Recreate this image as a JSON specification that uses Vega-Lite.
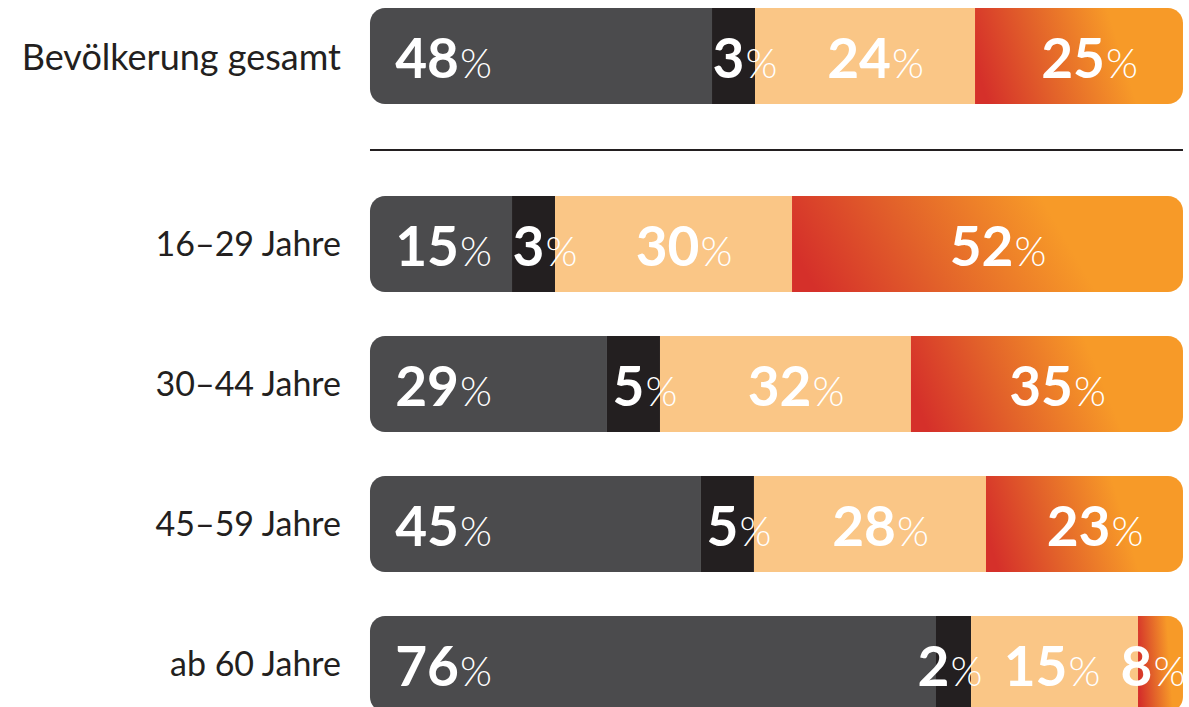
{
  "$schema": "https://vega.github.io/schema/vega-lite/v6.json",
  "width": 1189,
  "height": 707,
  "autosize": {"type": "fit", "contains": "padding"},
  "padding": 0,
  "background": "white",
  "config": {"view": {"stroke": null}, "font": "Lato"},
  "data": {
    "values": [
      {"gruppe": "Bevölkerung gesamt", "ebene": "gesamt", "kat": 1, "anteil": 42.07, "wert": 48},
      {"gruppe": "Bevölkerung gesamt", "ebene": "gesamt", "kat": 2, "anteil": 5.29, "wert": 3},
      {"gruppe": "Bevölkerung gesamt", "ebene": "gesamt", "kat": 3, "anteil": 27.06, "wert": 24},
      {"gruppe": "Bevölkerung gesamt", "ebene": "gesamt", "kat": 4, "anteil": 25.58, "wert": 25},
      {"gruppe": "16–29 Jahre", "ebene": "alter", "kat": 1, "anteil": 17.47, "wert": 15},
      {"gruppe": "16–29 Jahre", "ebene": "alter", "kat": 2, "anteil": 5.29, "wert": 3},
      {"gruppe": "16–29 Jahre", "ebene": "alter", "kat": 3, "anteil": 29.15, "wert": 30},
      {"gruppe": "16–29 Jahre", "ebene": "alter", "kat": 4, "anteil": 48.09, "wert": 52},
      {"gruppe": "30–44 Jahre", "ebene": "alter", "kat": 1, "anteil": 29.15, "wert": 29},
      {"gruppe": "30–44 Jahre", "ebene": "alter", "kat": 2, "anteil": 6.52, "wert": 5},
      {"gruppe": "30–44 Jahre", "ebene": "alter", "kat": 3, "anteil": 30.87, "wert": 32},
      {"gruppe": "30–44 Jahre", "ebene": "alter", "kat": 4, "anteil": 33.46, "wert": 35},
      {"gruppe": "45–59 Jahre", "ebene": "alter", "kat": 1, "anteil": 40.71, "wert": 45},
      {"gruppe": "45–59 Jahre", "ebene": "alter", "kat": 2, "anteil": 6.52, "wert": 5},
      {"gruppe": "45–59 Jahre", "ebene": "alter", "kat": 3, "anteil": 28.54, "wert": 28},
      {"gruppe": "45–59 Jahre", "ebene": "alter", "kat": 4, "anteil": 24.23, "wert": 23},
      {"gruppe": "ab 60 Jahre", "ebene": "alter", "kat": 1, "anteil": 69.62, "wert": 76},
      {"gruppe": "ab 60 Jahre", "ebene": "alter", "kat": 2, "anteil": 4.31, "wert": 2},
      {"gruppe": "ab 60 Jahre", "ebene": "alter", "kat": 3, "anteil": 20.54, "wert": 15},
      {"gruppe": "ab 60 Jahre", "ebene": "alter", "kat": 4, "anteil": 5.53, "wert": 8}
    ]
  },
  "transform": [
    {"stack": "anteil", "groupby": ["gruppe"], "sort": [{"field": "kat", "order": "ascending"}], "as": ["x0", "x1"]},
    {"calculate": "(datum.x0 + datum.x1) / 2", "as": "xm"}
  ],
  "encoding": {
    "x": {"field": "x0", "type": "quantitative", "scale": {"domain": [-45.51, 100.74], "nice": false, "zero": false}, "axis": null}
  },
  "layer": [
    {
      "transform": [{"filter": "datum.ebene == 'gesamt'"}],
      "encoding": {
        "y": {"field": "gruppe", "type": "nominal", "axis": null,
              "scale": {"domain": ["Bevölkerung gesamt", "Trennlinie"], "range": [9, 197], "paddingInner": 0, "paddingOuter": 0}}
      },
      "layer": [
        {"transform": [{"filter": "datum.kat == 1"}], "mark": {"type": "rule", "color": "#231f20", "strokeWidth": 2}, "encoding": {"x": {"datum": 0}, "x2": {"datum": 100}, "y": {"datum": "Trennlinie"}}},
        {"transform": [{"filter": "datum.kat == 1"}], "mark": {"type": "bar", "height": 96, "color": "#4b4b4d", "cornerRadiusTopLeft": 15, "cornerRadiusBottomLeft": 15}, "encoding": {"x2": {"field": "x1"}}},
        {"transform": [{"filter": "datum.kat == 2"}], "mark": {"type": "bar", "height": 96, "color": "#231f20"}, "encoding": {"x2": {"field": "x1"}}},
        {"transform": [{"filter": "datum.kat == 3"}], "mark": {"type": "bar", "height": 96, "color": "#fac686"}, "encoding": {"x2": {"field": "x1"}}},
        {"transform": [{"filter": "datum.kat == 4"}], "mark": {"type": "bar", "height": 96, "cornerRadiusTopRight": 15, "cornerRadiusBottomRight": 15,
          "color": {"gradient": "linear", "x1": 0, "y1": 0.55, "x2": 0.7, "y2": 0.45, "stops": [{"offset": 0, "color": "#d5302a"}, {"offset": 0.45, "color": "#e2612a"}, {"offset": 1, "color": "#f79a28"}]}}, "encoding": {"x2": {"field": "x1"}}},
        {"transform": [{"filter": "datum.kat == 1"}], "mark": {"type": "text", "align": "right", "baseline": "alphabetic", "dx": -29, "dy": 14, "fontSize": 36, "color": "#231f20"}, "encoding": {"x": {"datum": 0}, "text": {"field": "gruppe"}}},
        {"transform": [{"filter": "datum.kat == 1"}], "mark": {"type": "text", "align": "right", "baseline": "alphabetic", "dx": 89, "dy": 22, "fontSize": 55, "fontWeight": "bold", "color": "white"}, "encoding": {"text": {"field": "wert"}}},
        {"transform": [{"filter": "datum.kat == 1"}], "mark": {"type": "text", "align": "left", "baseline": "alphabetic", "dx": 90, "dy": 22, "fontSize": 41, "fontWeight": 300, "color": "white"}, "encoding": {"text": {"value": "%"}}},
        {"transform": [{"filter": "datum.kat == 2"}], "mark": {"type": "text", "align": "right", "baseline": "alphabetic", "dx": {"expr": "datum.anteil < 5 ? -4 : 11"}, "dy": 22, "fontSize": 55, "fontWeight": "bold", "color": "white"}, "encoding": {"x": {"field": "xm", "type": "quantitative"}, "text": {"field": "wert"}}},
        {"transform": [{"filter": "datum.kat == 2"}], "mark": {"type": "text", "align": "left", "baseline": "alphabetic", "dx": {"expr": "datum.anteil < 5 ? -3 : 12"}, "dy": 22, "fontSize": 41, "fontWeight": 300, "color": "white"}, "encoding": {"x": {"field": "xm", "type": "quantitative"}, "text": {"value": "%"}}},
        {"transform": [{"filter": "datum.kat >= 3"}], "mark": {"type": "text", "align": "right", "baseline": "alphabetic", "dx": {"expr": "datum.wert < 10 ? -8 : datum.anteil < 22 ? 13 : 26"}, "dy": 22, "fontSize": 55, "fontWeight": "bold", "color": "white"}, "encoding": {"x": {"field": "xm", "type": "quantitative"}, "text": {"field": "wert"}}},
        {"transform": [{"filter": "datum.kat >= 3"}], "mark": {"type": "text", "align": "left", "baseline": "alphabetic", "dx": {"expr": "datum.wert < 10 ? -7 : datum.anteil < 22 ? 14 : 27"}, "dy": 22, "fontSize": 41, "fontWeight": 300, "color": "white"}, "encoding": {"x": {"field": "xm", "type": "quantitative"}, "text": {"value": "%"}}}
      ]
    },
    {
      "transform": [{"filter": "datum.ebene == 'alter'"}],
      "encoding": {
        "y": {"field": "gruppe", "type": "nominal", "axis": null,
              "scale": {"domain": ["16–29 Jahre", "30–44 Jahre", "45–59 Jahre", "ab 60 Jahre"], "range": [174, 734], "paddingInner": 0, "paddingOuter": 0}}
      },
      "layer": [
        {"transform": [{"filter": "datum.kat == 1"}], "mark": {"type": "bar", "height": 96, "clip": true, "color": "#4b4b4d", "cornerRadiusTopLeft": 15, "cornerRadiusBottomLeft": 15}, "encoding": {"x2": {"field": "x1"}}},
        {"transform": [{"filter": "datum.kat == 2"}], "mark": {"type": "bar", "height": 96, "clip": true, "color": "#231f20"}, "encoding": {"x2": {"field": "x1"}}},
        {"transform": [{"filter": "datum.kat == 3"}], "mark": {"type": "bar", "height": 96, "clip": true, "color": "#fac686"}, "encoding": {"x2": {"field": "x1"}}},
        {"transform": [{"filter": "datum.kat == 4"}], "mark": {"type": "bar", "height": 96, "clip": true, "cornerRadiusTopRight": 15, "cornerRadiusBottomRight": 15,
          "color": {"gradient": "linear", "x1": 0, "y1": 0.55, "x2": 0.7, "y2": 0.45, "stops": [{"offset": 0, "color": "#d5302a"}, {"offset": 0.45, "color": "#e2612a"}, {"offset": 1, "color": "#f79a28"}]}}, "encoding": {"x2": {"field": "x1"}}},
        {"transform": [{"filter": "datum.kat == 1"}], "mark": {"type": "text", "align": "right", "baseline": "alphabetic", "dx": -29, "dy": 12, "fontSize": 34, "color": "#231f20"}, "encoding": {"x": {"datum": 0}, "text": {"field": "gruppe"}}},
        {"transform": [{"filter": "datum.kat == 1"}], "mark": {"type": "text", "align": "right", "baseline": "alphabetic", "dx": 89, "dy": 22, "fontSize": 55, "fontWeight": "bold", "color": "white"}, "encoding": {"text": {"field": "wert"}}},
        {"transform": [{"filter": "datum.kat == 1"}], "mark": {"type": "text", "align": "left", "baseline": "alphabetic", "dx": 90, "dy": 22, "fontSize": 41, "fontWeight": 300, "color": "white"}, "encoding": {"text": {"value": "%"}}},
        {"transform": [{"filter": "datum.kat == 2"}], "mark": {"type": "text", "align": "right", "baseline": "alphabetic", "dx": {"expr": "datum.anteil < 5 ? -4 : 11"}, "dy": 22, "fontSize": 55, "fontWeight": "bold", "color": "white"}, "encoding": {"x": {"field": "xm", "type": "quantitative"}, "text": {"field": "wert"}}},
        {"transform": [{"filter": "datum.kat == 2"}], "mark": {"type": "text", "align": "left", "baseline": "alphabetic", "dx": {"expr": "datum.anteil < 5 ? -3 : 12"}, "dy": 22, "fontSize": 41, "fontWeight": 300, "color": "white"}, "encoding": {"x": {"field": "xm", "type": "quantitative"}, "text": {"value": "%"}}},
        {"transform": [{"filter": "datum.kat >= 3"}], "mark": {"type": "text", "align": "right", "baseline": "alphabetic", "dx": {"expr": "datum.wert < 10 ? -8 : datum.anteil < 22 ? 13 : 26"}, "dy": 22, "fontSize": 55, "fontWeight": "bold", "color": "white"}, "encoding": {"x": {"field": "xm", "type": "quantitative"}, "text": {"field": "wert"}}},
        {"transform": [{"filter": "datum.kat >= 3"}], "mark": {"type": "text", "align": "left", "baseline": "alphabetic", "dx": {"expr": "datum.wert < 10 ? -7 : datum.anteil < 22 ? 14 : 27"}, "dy": 22, "fontSize": 41, "fontWeight": 300, "color": "white"}, "encoding": {"x": {"field": "xm", "type": "quantitative"}, "text": {"value": "%"}}}
      ]
    }
  ],
  "resolve": {"scale": {"y": "independent"}}
}
